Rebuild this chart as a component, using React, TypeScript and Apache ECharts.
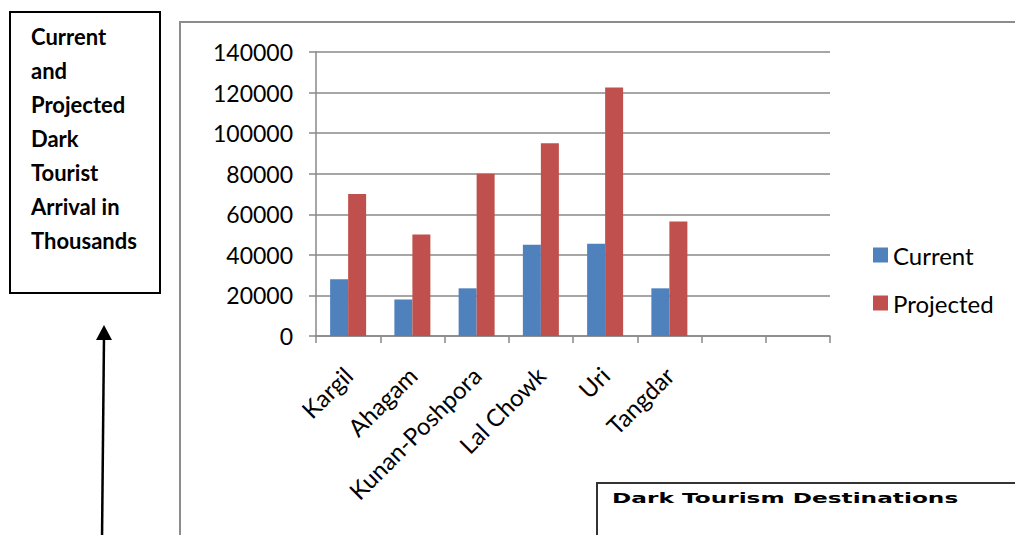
import React, { useEffect, useRef } from "react";
import * as echarts from "echarts";

const categories = ["Kargil", "Ahagam", "Kunan-Poshpora", "Lal Chowk", "Uri", "Tangdar", "", ""];
const currentValues = [28000, 18000, 23500, 45000, 45500, 23500, null, null];
const projectedValues = [70000, 50000, 80000, 95000, 122500, 56500, null, null];
const seriesNames = ["Current", "Projected"];
const yTicks = { min: 0, max: 140000, interval: 20000 };
const sideTitleLines = ["Current", "and", "Projected", "Dark", "Tourist", "Arrival in", "Thousands"];
const boxTitle = "Dark Tourism Destinations";

export default function App() {
  const ref = useRef<HTMLDivElement>(null);
  useEffect(() => {
    document.body.style.margin = "0";
    if (!ref.current) return;
    const chart = echarts.init(ref.current, null, { renderer: "svg" });
    const font = "Lato, 'Open Sans', sans-serif";
    const sideText = sideTitleLines.map((t, i) => ({
      type: "text",
      left: 31,
      top: 25 + i * 34,
      style: { text: t, font: `bold 22px ${font}`, fill: "#000" },
    }));
    chart.setOption({
      animation: false,
      backgroundColor: "#fff",
      grid: { left: 316, right: 185, top: 52, bottom: 199, containLabel: false },
      legend: {
        orient: "vertical",
        left: 873,
        top: 243,
        padding: 0,
        itemWidth: 15,
        itemHeight: 15,
        itemGap: 24,
        icon: "rect",
        textStyle: { fontFamily: font, fontSize: 24, color: "#000", lineHeight: 24 },
        data: seriesNames,
      },
      xAxis: {
        type: "category",
        data: categories,
        axisLine: { lineStyle: { color: "#888", width: 1.5 } },
        axisTick: { show: true, length: 7, lineStyle: { color: "#888", width: 1.5 } },
        axisLabel: { rotate: 45, interval: 0, margin: 35, fontFamily: font, fontSize: 24, color: "#000" },
      },
      yAxis: {
        type: "value",
        min: yTicks.min,
        max: yTicks.max,
        interval: yTicks.interval,
        axisLine: { show: true, lineStyle: { color: "#888", width: 1.5 } },
        axisTick: { show: true, length: 7, lineStyle: { color: "#888", width: 1.5 } },
        splitLine: { lineStyle: { color: "#888", width: 1.5 } },
        axisLabel: { margin: 23, fontFamily: font, fontSize: 23, color: "#000", formatter: (v: number) => String(v) },
      },
      series: [
        { name: seriesNames[0], type: "bar", data: currentValues, barWidth: 18, barGap: "0%", itemStyle: { color: "#4F81BD" } },
        { name: seriesNames[1], type: "bar", data: projectedValues, barWidth: 18, barGap: "0%", itemStyle: { color: "#C0504D" } },
      ],
      graphic: [
        { type: "rect", shape: { x: 180, y: 22, width: 900, height: 600 }, style: { fill: "none", stroke: "#8c8c8c", lineWidth: 2 }, silent: true, z: -1 },
        { type: "rect", shape: { x: 10, y: 12, width: 150, height: 281 }, style: { fill: "#fff", stroke: "#000", lineWidth: 2 } },
        ...sideText,
        { type: "line", shape: { x1: 102, y1: 540, x2: 104, y2: 336 }, style: { stroke: "#000", lineWidth: 2.5 } },
        { type: "polygon", shape: { points: [[104, 325], [96, 340], [112, 340]] }, style: { fill: "#000" } },
        { type: "rect", shape: { x: 597, y: 483, width: 500, height: 100 }, style: { fill: "#fff", stroke: "#333", lineWidth: 2 } },
        {
          type: "text",
          x: 612,
          y: 498,
          scaleX: 1.66,
          style: { text: boxTitle, font: "bold 14px 'DejaVu Sans', sans-serif", fill: "#000", verticalAlign: "middle" },
        },
      ],
    });
    return () => chart.dispose();
  }, []);
  return <div ref={ref} style={{ width: 1015, height: 535 }} />;
}
